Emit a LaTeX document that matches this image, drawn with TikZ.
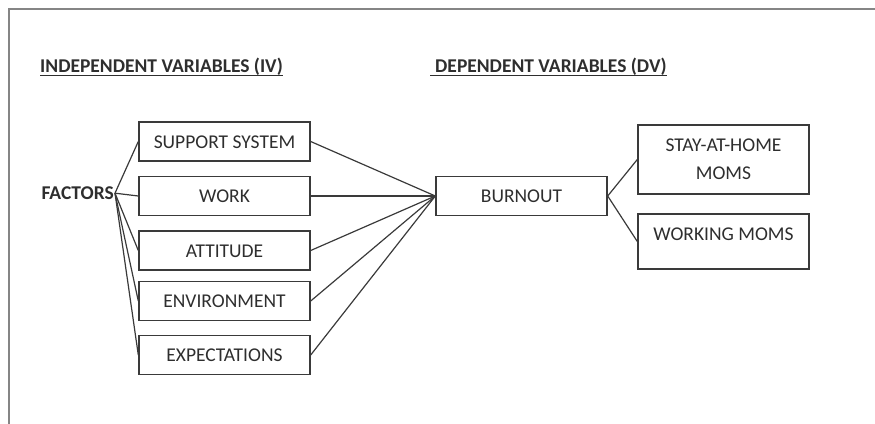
\documentclass[tikz,border=0pt]{standalone}
\usepackage{fontspec}
\setmainfont{Carlito}
\definecolor{txt}{HTML}{2E2E2E}
\definecolor{ln}{HTML}{3A3A3A}
\definecolor{frm}{HTML}{858585}
\begin{document}
\begin{tikzpicture}[x=1pt,y=-1pt,
  every node/.style={text=txt,font=\fontsize{19.5}{28}\selectfont},
  vbox/.style={draw=ln,line width=1.4pt,minimum width=171pt,minimum height=39pt,inner sep=0pt,text height=13pt,text depth=0pt,align=center},
  conn/.style={draw=ln,line width=1.2pt},
  heading/.style={font=\fontsize{19.5}{24}\selectfont\bfseries,anchor=base west,inner sep=0pt}]
\useasboundingbox (0,0) rectangle (875,423);
\draw[frm,line width=2pt] (9,425) -- (9,9) -- (877,9);
\node[heading] (iv) at (40,72) {INDEPENDENT VARIABLES (IV)};
\node[heading] (dv) at (435,72) {DEPENDENT VARIABLES (DV)};
\draw[txt,line width=1.8pt] ([yshift=-3.5pt]iv.base west) -- ([yshift=-3.5pt]iv.base east);
\draw[txt,line width=1.8pt] ([xshift=-5pt,yshift=-3.5pt]dv.base west) -- ([yshift=-3.5pt]dv.base east);
\node[font=\fontsize{19.5}{24}\selectfont\bfseries,anchor=base east,inner sep=1pt] (fac) at (115,199.5) {FACTORS};
\node[vbox] (sup) at (224.5,141.5) {SUPPORT SYSTEM};
\node[vbox] (work) at (224.5,196) {WORK};
\node[vbox] (att) at (224.5,250.5) {ATTITUDE};
\node[vbox] (env) at (224.5,301) {ENVIRONMENT};
\node[vbox] (exp) at (224.5,355) {EXPECTATIONS};
\node[vbox] (burn) at (521.5,196) {BURNOUT};
\node[draw=ln,line width=1.4pt,minimum width=171pt,minimum height=69pt,inner sep=0pt,align=center] (stay) at (723.5,159.5) {STAY-AT-HOME\\MOMS};
\node[draw=ln,line width=1.4pt,minimum width=171pt,inner sep=0pt,text height=26pt,text depth=29pt,align=center] (wmom) at (723.5,241.5) {WORKING MOMS};
\foreach \b in {sup,work,att,env,exp}{
  \draw[conn] (fac.east) -- (\b.west);
  \draw[conn] (\b.east) -- (burn.west);
}
\draw[conn] (burn.east) -- (stay.west);
\draw[conn] (burn.east) -- (wmom.west);
\end{tikzpicture}
\end{document}
